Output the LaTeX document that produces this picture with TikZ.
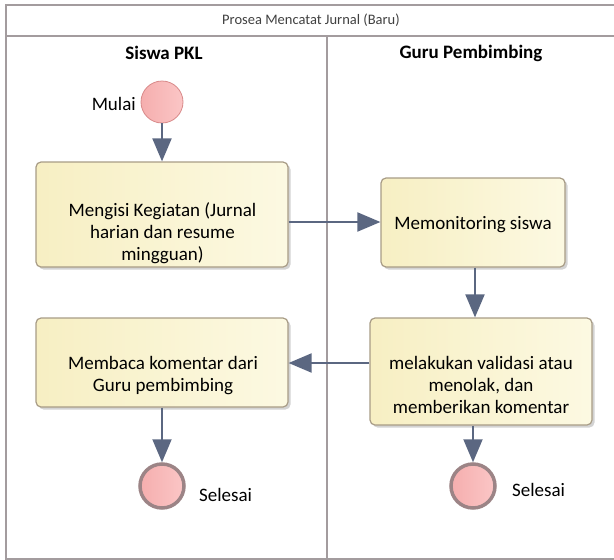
\documentclass[tikz,border=0pt]{standalone}
\usepackage{fontspec}
\setmainfont{Carlito}
\usetikzlibrary{arrows.meta,shadows}
\definecolor{lanegray}{HTML}{A39C9E}
\definecolor{flowblue}{HTML}{5B6781}
\definecolor{boxedge}{HTML}{A89C86}
\definecolor{boxleft}{HTML}{F7EFC3}
\definecolor{boxright}{HTML}{FCF9E2}
\definecolor{evpink}{HTML}{F5AEAE}
\definecolor{evpinklight}{HTML}{FBC6C6}
\definecolor{startedge}{HTML}{D88A8A}
\definecolor{endedge}{HTML}{9C8486}
\tikzset{
  lane/.style={draw=lanegray, line width=2pt},
  task/.style={draw=boxedge, line width=1.2pt, rounded corners=5pt,
    left color=boxleft, right color=boxright,
    drop shadow={shadow xshift=2.5pt, shadow yshift=-2.5pt, opacity=0.35, fill=gray},
    inner sep=0pt},
  tasktext/.style={align=center, font=\fontsize{19}{22}\selectfont, inner sep=0pt},
  startev/.style={circle, draw=startedge, line width=0.8pt, left color=evpink, right color=evpinklight,
    minimum size=42pt, inner sep=0pt},
  endev/.style={circle, draw=endedge, line width=3.5pt, left color=evpink, right color=evpinklight,
    minimum size=44pt, inner sep=0pt},
  flow/.style={draw=flowblue, line width=2pt, -{Triangle[length=23pt,width=19pt]}},
  evlabel/.style={font=\fontsize{19}{22}\selectfont, inner sep=0pt},
}
\begin{document}
\begin{tikzpicture}[x=1pt,y=-1pt]
\useasboundingbox (0,0) rectangle (614,560);
% pool frame, title band and lane divider
\draw[lane] (620,5) -- (6,5) -- (6,559) -- (620,559);
\draw[lane] (6,36) -- (620,36);
\draw[lane] (327,36) -- (327,559);
\node[font=\fontsize{14.5}{16}\selectfont, text=black!75] (pool) at (311,20) {Prosea Mencatat Jurnal (Baru)};
\node[font=\bfseries\fontsize{19}{22}\selectfont] (laneA) at (164,53) {Siswa PKL};
\node[font=\bfseries\fontsize{19}{22}\selectfont] (laneB) at (471,53) {Guru Pembimbing};

% events
\node[startev] (start) at (162,102) {};
\node[evlabel, anchor=east] (startlbl) at (136,104) {Mulai};
\node[endev] (endA) at (162,486) {};
\node[evlabel, anchor=west] (endAlbl) at (199,495) {Selesai};
\node[endev] (endB) at (473,486) {};
\node[evlabel, anchor=west] (endBlbl) at (512,490) {Selesai};

% tasks (box, then its text)
\node[task, minimum width=252pt, minimum height=105pt] (t1) at (162,214.5) {};
\node[tasktext] (t1text) at (162.5,234)
  {\strut Mengisi Kegiatan (Jurnal\\\strut harian dan resume\\\strut mingguan)};
\node[task, minimum width=184pt, minimum height=89pt] (t2) at (473,222.5) {};
\node[tasktext] (t2text) at (473,225.5) {\strut Memonitoring siswa};
\node[task, minimum width=222pt, minimum height=107pt] (t3) at (481,371.5) {};
\node[tasktext] (t3text) at (481,387.5)
  {\strut melakukan validasi atau\\\strut menolak, dan\\\strut memberikan komentar};
\node[task, minimum width=252pt, minimum height=89pt] (t4) at (162,362.5) {};
\node[tasktext] (t4text) at (163,376.5)
  {\strut Membaca komentar dari\\\strut Guru pembimbing};

% sequence flows
\draw[flow] (start) -- (t1.north -| start);
\draw[flow] (t1.east |- 0,222) -- (t2.west |- 0,222);
\draw[flow] (t2.south -| 475,0) -- (t3.north -| 475,0);
\draw[flow] (t3.west |- 0,363) -- (t4.east |- 0,363);
\draw[flow] (t4.south -| endA) -- (endA);
\draw[flow] (t3.south -| endB) -- (endB);
\end{tikzpicture}
\end{document}
